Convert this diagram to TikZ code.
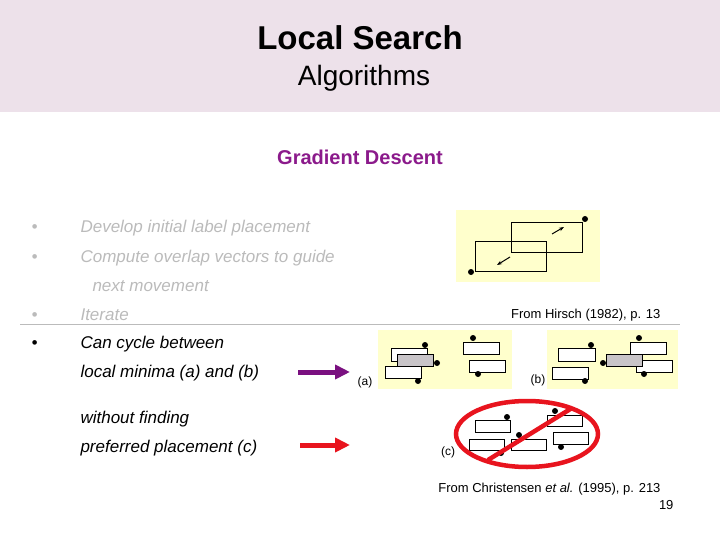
\documentclass[tikz,border=0pt]{standalone}
\usepackage{fontspec}
\setmainfont{Liberation Sans}
\usetikzlibrary{arrows.meta}
\definecolor{band}{HTML}{EDE1EA}
\definecolor{ylw}{HTML}{FFFFCC}
\definecolor{purp}{HTML}{8B1A8B}
\definecolor{arrp}{HTML}{7A1080}
\definecolor{redc}{HTML}{E8141E}
\definecolor{lgray}{HTML}{BBBBBB}
\definecolor{gbox}{HTML}{C8C4C8}
\begin{document}
\begin{tikzpicture}[x=1pt,y=-1pt,
  lbl/.style={draw=black,line width=0.9pt,fill=white},
  glbl/.style={draw=black,line width=0.9pt,fill=gbox},
  pt/.style={fill=black,circle,inner sep=0pt,minimum size=6pt},
  bul/.style={anchor=base west,font=\fontsize{17}{20}\selectfont\itshape},
  captxt/.style={anchor=base east,font=\fontsize{13}{15}\selectfont},
  fatarrow/.style={line width=5pt,-{Triangle[length=15pt,width=14pt]}}]
\useasboundingbox (0,0) rectangle (720,540);
\fill[white] (0,0) rectangle (720,540);
\fill[band] (0,0) rectangle (720,112);
\node[font=\fontsize{33}{36}\selectfont\bfseries] (t1) at (360,38) {Local Search};
\node[font=\fontsize{28}{32}\selectfont] (t2) at (364,78) {Algorithms};
\node[font=\fontsize{20}{24}\selectfont\bfseries,text=purp] (t3) at (360,157) {Gradient Descent};
% bullets
\begin{scope}[text=lgray]
\node[bul] (b1d) at (28,233) {•};
\node[bul] (b1) at (77,233) {Develop initial label placement};
\node[bul] (b2d) at (28,262) {•};
\node[bul] (b2) at (77,262) {Compute overlap vectors to guide};
\node[bul] (b2b) at (89,291) {next movement};
\node[bul] (b3d) at (28,320) {•};
\node[bul] (b3) at (77,320) {Iterate};
\end{scope}
\node[bul] (b4d) at (28,348) {•};
\node[bul] (b4) at (77,348) {Can cycle between};
\node[bul] (b4b) at (77,377) {local minima (a) and (b)};
\node[bul] (b5) at (77,423) {without finding};
\node[bul] (b5b) at (77,452) {preferred placement (c)};
\draw[lgray,line width=0.8pt] (20,324) -- (680,324);
\coordinate (pa1) at (298,372); \coordinate (pa2) at (350,372);
\coordinate (ra1) at (300,445); \coordinate (ra2) at (350,445);
\draw[fatarrow,arrp] (pa1) -- (pa2);
\draw[fatarrow,redc] (ra1) -- (ra2);
% top panel
\fill[ylw] (456,210) rectangle (600,282);
\draw[line width=0.9pt] (511,222) rectangle (582,252);
\draw[line width=0.9pt] (475,241) rectangle (546,271);
\node[pt] (d1) at (585,219) {};
\node[pt] (d2) at (471,272) {};
\coordinate (v1a) at (552,234); \coordinate (v1b) at (564,227);
\coordinate (v2a) at (510,257); \coordinate (v2b) at (497,265);
\draw[line width=1pt,-{Stealth[length=5pt]}] (v1a) -- (v1b);
\draw[line width=1pt,-{Stealth[length=5pt]}] (v2a) -- (v2b);
\node[captxt] (c1) at (664,318) {From Hirsch (1982), p. 13};
% panel a
\fill[ylw] (378,330) rectangle (512,389);
\draw[lbl] (391,348) rectangle (427,361);
\draw[glbl] (397,354) rectangle (433,366);
\draw[lbl] (385,366) rectangle (421,378);
\node[pt] at (425,345) {}; \node[pt] at (437,363) {}; \node[pt] at (418,381) {};
\draw[lbl] (463,342) rectangle (499,354); \node[pt] at (473,338) {};
\draw[lbl] (469,360) rectangle (505,372); \node[pt] at (478,374) {};
\node[font=\fontsize{12}{14}\selectfont] (la) at (365,382) {(a)};
% panel b
\fill[ylw] (547,330) rectangle (678,389);
\draw[lbl] (558,348) rectangle (595,361); \node[pt] at (591,345) {};
\draw[lbl] (552,367) rectangle (588,379); \node[pt] at (585,381) {};
\draw[lbl] (630,342) rectangle (666,354); \node[pt] at (639,338) {};
\draw[lbl] (636,360) rectangle (672,372); \node[pt] at (644,374) {};
\draw[glbl] (606,354) rectangle (642,366); \node[pt] at (603,363) {};
\node[font=\fontsize{12}{14}\selectfont] (lb) at (538,380) {(b)};
% panel c
\draw[lbl] (475,420) rectangle (510,432); \node[pt] at (507,417) {};
\draw[lbl] (469,439) rectangle (504,450); \node[pt] at (501,453) {};
\draw[lbl] (511,439) rectangle (546,450); \node[pt] at (519,435) {};
\draw[lbl] (547,415) rectangle (582,426); \node[pt] at (555,411) {};
\draw[lbl] (553,432) rectangle (588,444); \node[pt] at (561,447) {};
\coordinate (s1) at (488,460); \coordinate (s2) at (572,408);
\draw[redc,line width=4.5pt] (s1) -- (s2);
\draw[redc,line width=4.5pt] (527,434) ellipse [x radius=71,y radius=33];
\node[font=\fontsize{12}{14}\selectfont] (lc) at (448,452) {(c)};
\node[captxt] (c2) at (664,492) {From Christensen \textit{et al.} (1995), p. 213};
\node[captxt] (pg) at (677,509) {19};
\end{tikzpicture}
\end{document}
